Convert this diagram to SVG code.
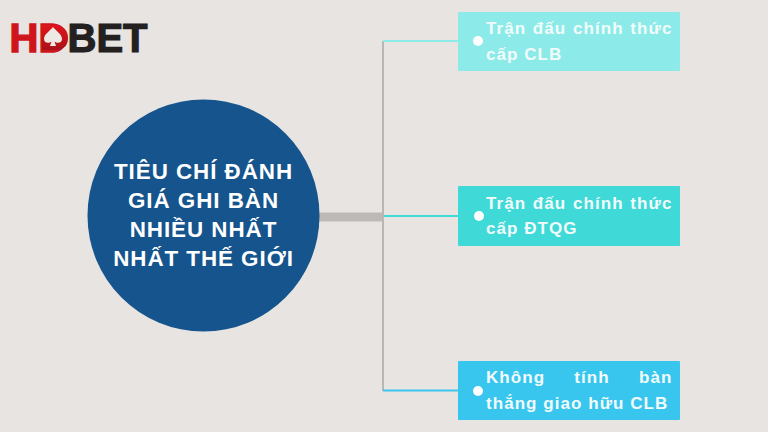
<svg xmlns="http://www.w3.org/2000/svg" width="768" height="432" viewBox="0 0 768 432">
<defs><linearGradient id="r" x1="0" y1="0" x2="0" y2="1"><stop offset="0" stop-color="#e0141c"/><stop offset="1" stop-color="#a81218"/></linearGradient></defs>
<style>
.t{font-family:"Liberation Sans",Arial,sans-serif;font-weight:700;fill:#fff}
.b{font-size:17px;letter-spacing:1.05px;fill:#f2fbfb}
.c{font-size:22.4px;letter-spacing:.95px;text-anchor:middle}
.l{font-family:"Liberation Sans",Arial,sans-serif;font-weight:700;font-size:40px}
.d{fill:#fff}
</style>
<rect width="768" height="432" fill="#e8e4e1"/>
<g id="connectors" fill="none">
<path d="M319 217H383" stroke="#bdb9b7" stroke-width="9"/>
<path d="M383 41V391" stroke="#b9b7b6" stroke-width="2"/>
<path d="M383 41H458" stroke="#8cebe8" stroke-width="2"/>
<path d="M384 216H458" stroke="#3fd9d8" stroke-width="2"/>
<path d="M383 390.500H458" stroke="#38c6ef" stroke-width="2"/>
</g>
<g id="logo">
<text class="l" x="9.500" y="51.500" fill="#cf141c" stroke="#cf141c" stroke-width="1.400">HD</text>
<path d="M42 25H58C65 27 68 32 68 38C68 44 65 49 58 50H42Z" fill="url(#r)"/>
<path d="M53 27C56 31 62 34 62 39C62 43 57 44 54.500 41.500L56 46H50L51.500 41.500C49 44 44 43 44 39C44 34 50 31 53 27Z" fill="#efe9e6"/>
<text class="l" x="67.500" y="51.500" fill="#23201f" stroke="#23201f" stroke-width="1.200">BET</text>
</g>
<g id="center">
<circle cx="203.500" cy="215.500" r="116" fill="#15548c"/>
<text class="t c" x="203.500" y="179">TIÊU CHÍ ĐÁNH</text>
<text class="t c" x="203.500" y="208">GIÁ GHI BÀN</text>
<text class="t c" x="203.500" y="237">NHIỀU NHẤT</text>
<text class="t c" x="203.500" y="266">NHẤT THẾ GIỚI</text>
</g>
<g id="node1">
<rect x="458" y="12" width="222" height="59" rx="1" fill="#8cebe8"/>
<circle class="d" cx="478" cy="41" r="5"/>
<text class="t b" x="486" y="34" word-spacing="1">Trận đấu chính thức</text>
<text class="t b" x="486" y="60">cấp CLB</text>
</g>
<g id="node2">
<rect x="458" y="186" width="222" height="60" rx="1" fill="#3fd9d8"/>
<circle class="d" cx="479" cy="216" r="5"/>
<text class="t b" x="486" y="209" word-spacing="1">Trận đấu chính thức</text>
<text class="t b" x="486" y="234">cấp ĐTQG</text>
</g>
<g id="node3">
<rect x="458" y="361" width="222" height="59" rx="1" fill="#38c6ef"/>
<circle class="d" cx="478" cy="391" r="5"/>
<text class="t b" x="486" y="383" word-spacing="23.500">Không tính bàn</text>
<text class="t b" x="486" y="409">thắng giao hữu CLB</text>
</g>
</svg>
